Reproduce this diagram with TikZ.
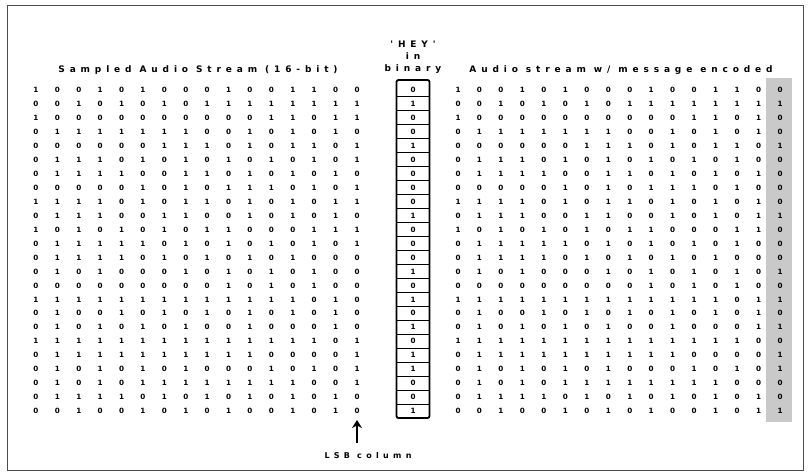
\documentclass[tikz,border=0pt]{standalone}
\usepackage{fontspec}
\setmainfont{DejaVu Sans}
\newfontfamily\hdrfont[LetterSpace=54]{DejaVu Sans}
\usetikzlibrary{arrows.meta}
\definecolor{lsbgray}{HTML}{C9C9C9}
\begin{document}
\begin{tikzpicture}[x=1pt,y=-1pt,
  bit/.style={inner sep=0pt, font=\fontsize{7.2}{7.2}\selectfont\bfseries},
  hdr/.style={inner sep=0pt, font=\hdrfont\fontsize{9}{12}\selectfont\bfseries, align=center},
  lsbhdr/.style={inner sep=0pt, font=\hdrfont\fontsize{8}{10}\selectfont\bfseries},
  frame/.style={draw=black!70, line width=0.8pt},
  msgbox/.style={draw, rounded corners=2pt, line width=1.8pt, minimum width=33pt, minimum height=338pt, inner sep=0pt},
  cellsep/.style={line width=1pt},
  bigarrow/.style={line width=2.6pt, -{Stealth[length=8pt, width=10pt]}}
]
\useasboundingbox (0,0) rectangle (810,474);
\draw[frame] (7,5) rectangle (803,470);
% shaded LSB column of the encoded stream
\fill[lsbgray] (766,78) rectangle (792,422);
% headers
\node[hdr] (hL) at (198,70) {Sampled Audio Stream (16-bit)};
\node[hdr] (hR) at (621,70) {Audio stream w/ message encoded};
\node[hdr] (hM) at (413,57) {'HEY'\\in\\binary};
% message box
\node[msgbox] (box) at (413,249) {};
\foreach \r in {1,...,23}{
  \draw[cellsep] (box.west |- 0,{90+13.96*(\r-0.5)}) -- (box.east |- 0,{90+13.96*(\r-0.5)});
}
% left grid (original samples) and right grid (encoded), columns 1-15 identical
\foreach \bits [count=\r] in {
{1,0,0,1,0,1,0,0,0,1,0,0,1,1,0,0},
{0,0,1,0,1,0,1,0,1,1,1,1,1,1,1,1},
{1,0,0,0,0,0,0,0,0,0,0,1,1,0,1,1},
{0,1,1,1,1,1,1,1,0,0,1,0,1,0,1,0},
{0,0,0,0,0,0,1,1,1,0,1,0,1,1,0,1},
{0,1,1,1,0,1,0,1,0,1,0,1,0,1,0,1},
{0,1,1,1,1,0,0,1,1,0,1,0,1,0,1,0},
{0,0,0,0,0,1,0,1,0,1,1,1,0,1,0,1},
{1,1,1,1,0,1,0,1,1,0,1,0,1,0,1,1},
{0,1,1,1,0,0,1,1,0,0,1,0,1,0,1,0},
{1,0,1,0,1,0,1,0,1,1,0,0,0,1,1,1},
{0,1,1,1,1,1,0,1,0,1,0,1,0,1,0,1},
{0,1,1,1,1,0,1,0,1,0,1,0,1,0,0,0},
{0,1,0,1,0,0,0,1,0,1,0,1,0,1,0,0},
{0,0,0,0,0,0,0,0,0,1,0,1,0,1,0,0},
{1,1,1,1,1,1,1,1,1,1,1,1,1,0,1,0},
{0,1,0,0,1,0,1,0,1,0,1,0,1,0,1,0},
{0,1,0,1,0,1,0,1,0,0,1,0,0,0,1,0},
{1,1,1,1,1,1,1,1,1,1,1,1,1,1,0,1},
{0,1,1,1,1,1,1,1,1,1,1,0,0,0,0,1},
{0,1,0,1,0,1,0,1,0,0,0,1,0,1,0,1},
{0,1,0,1,0,1,1,1,1,1,1,1,1,0,0,1},
{0,1,1,1,1,0,1,0,1,0,1,0,1,0,1,0},
{0,0,1,0,0,1,0,1,0,1,0,0,1,0,1,0}}{
  \foreach \b [count=\c] in \bits {
    \node[bit] (L-\r-\c) at ({36+21.4*(\c-1)},{90+13.96*(\r-1)}) {\b};
    \ifnum\c<16
      \node[bit] (R-\r-\c) at ({458+21.47*(\c-1)},{90+13.96*(\r-1)}) {\b};
    \fi
  }
}
% message bits: 'H' 'E' 'Y'
\foreach \m [count=\r] in {0,1,0,0,1,0,0,0, 0,1,0,0,0,1,0,1, 0,1,0,1,1,0,0,1}{
  \node[bit] (M-\r) at (413,{90+13.96*(\r-1)}) {\m};
  \node[bit] (R-\r-16) at (780,{90+13.96*(\r-1)}) {\m};
}
% LSB column pointer
\node[lsbhdr] (lsb) at (368,456) {LSB column};
\coordinate (arrowtail) at (357,443);
\coordinate (arrowtip) at (357,420);
\draw[bigarrow] (arrowtail) -- (arrowtip);
\end{tikzpicture}
\end{document}
